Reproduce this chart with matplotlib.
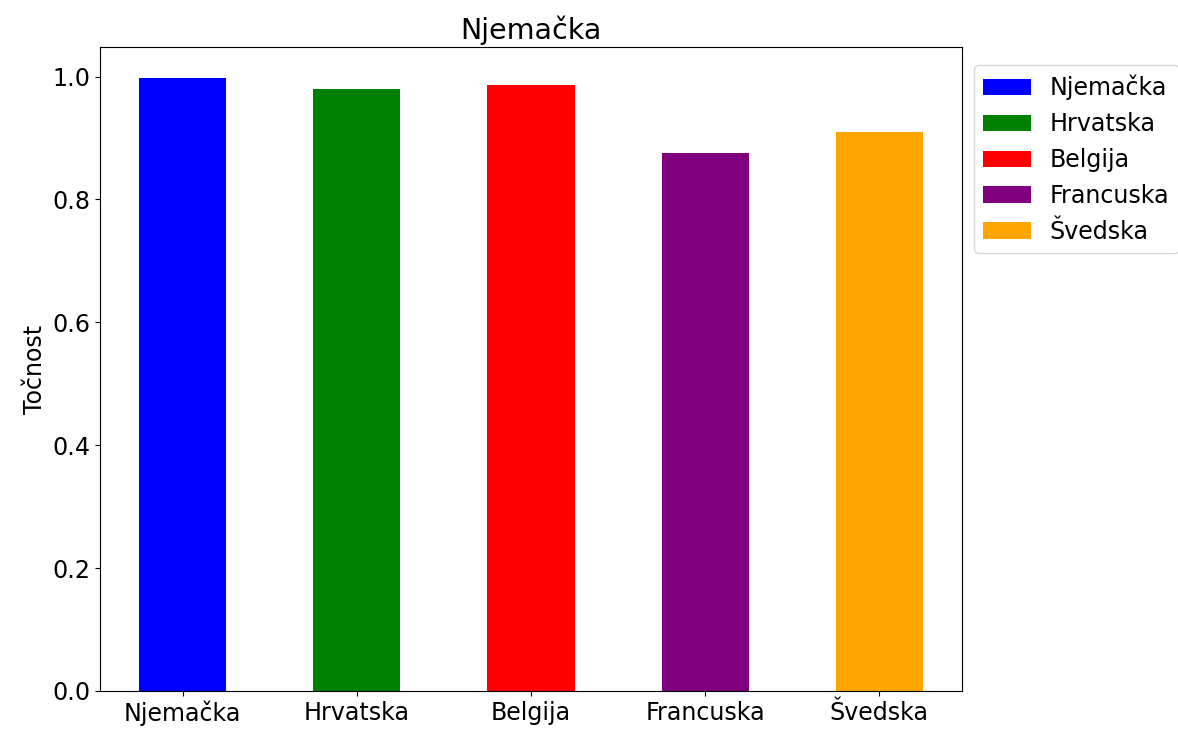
import matplotlib.pyplot as plt

countries = ["Njemačka", "Hrvatska", "Belgija", "Francuska", "Švedska"]
accuracy = [0.998, 0.979, 0.987, 0.876, 0.910]
bar_colors = ["blue", "green", "red", "purple", "orange"]

plt.rcParams["font.size"] = 17.1

fig = plt.figure(figsize=(11.78, 7.35), dpi=100)
ax = fig.add_axes([0.0849, 0.0599, 0.7317, 0.876])

for i, (name, val) in enumerate(zip(countries, accuracy)):
    ax.bar(i, val, width=0.5, color=bar_colors[i], label=name)

ax.set_xticks(range(len(countries)))
ax.set_xticklabels(countries)
ax.set_ylabel("Točnost")
ax.set_title("Njemačka")
ax.legend(loc="upper left", bbox_to_anchor=(1, 0.99))

fig.savefig("out.png", dpi=100)
